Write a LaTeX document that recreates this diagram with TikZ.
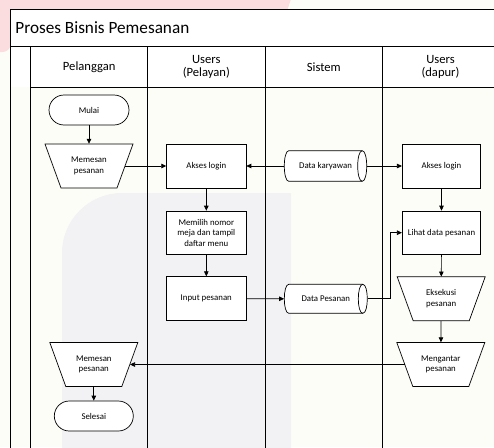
\documentclass[tikz,border=0pt]{standalone}
\usepackage{fontspec}
\setmainfont{Carlito}
\usetikzlibrary{arrows.meta,calc}
\definecolor{bgc}{HTML}{FDFDF8}
\definecolor{pinkc}{HTML}{FBDCDF}
\definecolor{greyc}{HTML}{F2F2F4}
\newcommand\nodefont{\fontsize{8.8}{10.6}\selectfont}
\newcommand\headfont{\fontsize{12.6}{13.2}\selectfont}
\newcommand\mytrap[2]{\draw[fill=white, line width=.7pt] (#1-44,#2-22) -- (#1+44,#2-22) -- (#1+28,#2+22) -- (#1-28,#2+22) -- cycle;}
\newcommand\mycyl[4]{%
 \draw[fill=white, line width=.7pt] (#1-#3+4.5,#2-#4) -- (#1+#3-4.5,#2-#4) .. controls (#1+#3+1.5,#2-#4) and (#1+#3+1.5,#2+#4) .. (#1+#3-4.5,#2+#4) -- (#1-#3+4.5,#2+#4) .. controls (#1-#3-1.5,#2+#4) and (#1-#3-1.5,#2-#4) .. (#1-#3+4.5,#2-#4) -- cycle;
 \draw[line width=.7pt] (#1+#3-4.5,#2-#4) .. controls (#1+#3-10.5,#2-#4) and (#1+#3-10.5,#2+#4) .. (#1+#3-4.5,#2+#4);}
\begin{document}
\begin{tikzpicture}[x=1pt,y=-1pt,
  frame/.style={line width=0.9pt, draw=black},
  box/.style={draw, fill=white, line width=0.7pt, minimum width=79, minimum height=44, align=center, font=\nodefont, inner sep=1pt},
  term/.style={draw, fill=white, line width=0.7pt, rounded corners=15, minimum width=80, minimum height=30, font=\nodefont, inner sep=1pt},
  lbl/.style={align=center, font=\nodefont, inner sep=0pt},
  head/.style={align=center, font=\headfont, inner sep=0pt},
  arr/.style={-{Triangle[length=5pt,width=4.5pt]}, line width=0.7pt}]
\useasboundingbox (0,0) rectangle (494,447);
\fill[bgc] (0,0) rectangle (494,447);
% watermark
\fill[pinkc] (-10,-10) -- (294,-10) -- (284,20) -- (10.7,20) [rounded corners=8] -- (10.7,52) -- (-10,52) [sharp corners] -- cycle;
\fill[greyc] (62,460) [rounded corners=60] -- (62,193) [sharp corners] -- (291,193) -- (291,460) -- cycle;
% frame
\fill[white] (10.7,9) rectangle (500,87);
\draw[frame] (10.7,460) -- (10.7,9) -- (500,9);
\draw[frame] (10.7,46.7) -- (500,46.7);
\draw[frame] (30.7,46.7) -- (30.7,460);
\draw[frame] (30.7,87) -- (500,87);
\foreach \xx in {147.7,265,382.7} \draw[frame] (\xx,46.7) -- (\xx,460);
\node[anchor=west, inner sep=0pt, font=\fontsize{17.2}{18}\selectfont] (title) at (15.2,28) {Proses Bisnis Pemesanan};
\node[head] (h1) at (89.2,67) {Pelanggan};
\node[head] (h2) at (206.3,67) {Users\\(Pelayan)};
\node[head] (h3) at (323.8,67) {Sistem};
\node[head] (h4) at (440.5,67) {Users\\(dapur)};
% nodes
\node[term] (mulai) at (89,110) {Mulai};
\mytrap{89}{166}
\node[lbl, minimum width=72, minimum height=44] (mem1) at (89,166) {Memesan\\pesanan};
\node[box, minimum width=79.3] (al1) at (206.3,166) {Akses login};
\mycyl{325.5}{166}{41.2}{15.3}
\node[lbl, minimum width=82.4, minimum height=30.6] (dk) at (325.5,166) {Data karyawan};
\node[box, minimum width=78.4] (al2) at (441.5,166) {Akses login};
\node[box, minimum width=79.3, minimum height=43.3] (pilih) at (206.3,232.7) {Memilih nomor\\meja dan tampil\\daftar menu};
\node[box, minimum width=79.3] (input) at (206.3,298.7) {Input pesanan};
\mycyl{325.8}{298.8}{41.5}{14.5}
\node[lbl, minimum width=83, minimum height=29] (dp) at (325.8,298.8) {Data Pesanan};
\node[box, minimum width=78.4, minimum height=43.3] (lihat) at (441.5,232.7) {Lihat data pesanan};
\mytrap{441.2}{298.8}
\node[lbl, minimum width=72, minimum height=44] (eks) at (441.2,298.8) {Eksekusi\\pesanan};
\mytrap{440.8}{364.5}
\node[lbl, minimum width=72, minimum height=44] (antar) at (440.8,364.5) {Mengantar\\pesanan};
\mytrap{93.8}{364.5}
\node[lbl, minimum width=72, minimum height=44] (mem2) at (93.8,364.5) {Memesan\\pesanan};
\node[term, minimum width=79] (selesai) at (93.8,416) {Selesai};
% connectors
\draw[arr] (mulai) -- (mem1);
\draw[arr] (mem1.east) -- (al1.west);
\draw[arr] (dk.west) -- (al1.east);
\draw[arr] (dk.east) -- (al2.west);
\draw[arr] (al1) -- (pilih);
\draw[arr] (pilih) -- (input);
\draw[arr] (input.east) -- (dp.west);
\draw[arr] (dp.east) -- ++(23,0) |- (lihat.west);
\draw[arr] (al2) -- (lihat);
\draw[arr] (lihat) -- (eks);
\draw[arr] (eks) -- (antar);
\draw[arr] (antar.west) -- (mem2.east);
\draw[arr] (mem2) -- (selesai);
\end{tikzpicture}
\end{document}
